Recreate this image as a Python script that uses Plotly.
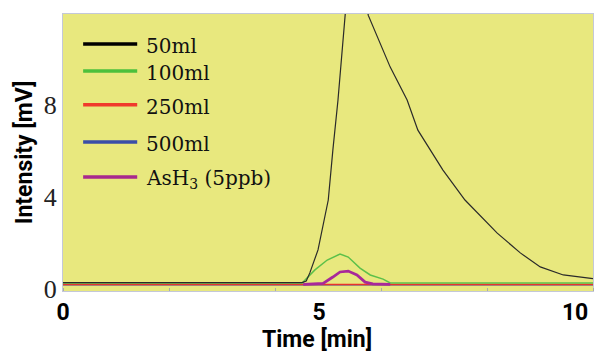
import plotly.graph_objects as go

# Time [min] and Intensity [mV]
t_50 = [0, 4.67, 4.75, 4.82, 4.98, 5.18, 5.27, 5.37, 5.51, 5.72, 5.96, 6.39, 6.72, 6.93, 7.42, 7.85, 8.48, 8.93, 9.32, 9.77, 10.35]
i_50 = [0.28, 0.28, 0.35, 0.70, 1.70, 3.87, 6.04, 8.22, 11.91, 17.0, 11.91, 9.65, 8.22, 6.91, 5.17, 3.87, 2.43, 1.57, 0.96, 0.61, 0.45]

t_100 = [0, 4.67, 4.92, 5.16, 5.41, 5.57, 5.8, 6.0, 6.25, 6.39, 10.35]
i_100 = [0.26, 0.26, 0.83, 1.26, 1.52, 1.39, 0.91, 0.61, 0.43, 0.26, 0.26]

t_250 = [0, 5.0, 10.35]
i_250 = [0.20, 0.20, 0.20]

t_500 = [0, 5.0, 10.35]
i_500 = [0.19, 0.19, 0.19]

t_ash3 = [4.69, 5.08, 5.27, 5.41, 5.57, 5.74, 5.9, 6.05, 6.39]
i_ash3 = [0.20, 0.24, 0.52, 0.74, 0.78, 0.61, 0.30, 0.22, 0.20]

x_ticks = [0, 5, 10]
y_ticks = [0, 4, 8]

series_names = ["50ml", "100ml", "250ml", "500ml", "AsH<sub>3</sub> (5ppb)"]
legend_colors = ["#000000", "#4cc03c", "#f03a2c", "#3a4ea8", "#a8288e"]

fig = go.Figure()

def add(t, v, name, color, width):
    fig.add_trace(go.Scatter(
        x=t, y=v, mode="lines", name=name, showlegend=False,
        line=dict(color=color, width=width),
    ))

# draw order: baselines first, black on top
add(t_500, i_500, series_names[3], "#3a4fa8", 1.5)
add(t_250, i_250, series_names[2], "#e8342c", 1.5)
add(t_100, i_100, series_names[1], "#5cc04a", 1.5)
add(t_ash3, i_ash3, series_names[4], "#a8289a", 2.8)
add(t_50, i_50, series_names[0], "#2a2a2a", 1.2)

# custom legend (paper coordinates), matching the reference's long thick swatches
legend_y = [0.892, 0.794, 0.672, 0.538, 0.412]
shapes = []
annotations = []
for name, col, yy in zip(series_names, legend_colors, legend_y):
    shapes.append(dict(type="line", xref="paper", yref="paper",
                       x0=0.038, x1=0.140, y0=yy, y1=yy,
                       line=dict(color=col, width=3.5)))
    annotations.append(dict(xref="paper", yref="paper", x=0.153, y=yy - 0.008,
                            xanchor="left", yanchor="middle", showarrow=False,
                            text=name,
                            font=dict(family="DejaVu Serif", size=20, color="#111111")))

annotations.append(dict(xref="paper", yref="paper", x=0.48, y=-0.176,
                        xanchor="center", yanchor="middle", showarrow=False,
                        text="Time [min]", borderpad=0,
                        font=dict(family="Roboto", size=23, color="black", weight="bold")))

axis_line = "#c4c8d8"
fig.update_layout(
    width=603, height=353,
    margin=dict(l=63, r=10, t=14, b=62),
    paper_bgcolor="white",
    plot_bgcolor="#e8e87e",
    showlegend=False,
    shapes=shapes,
    annotations=annotations,
    xaxis=dict(
        range=[0, 10.35],
        tickvals=x_ticks, ticktext=[str(v) for v in x_ticks],
        tickfont=dict(family="Roboto", size=23, color="black", weight="bold"),
        showgrid=False, zeroline=False,
        showline=True, mirror=True, linecolor=axis_line, linewidth=1,
        ticks="", ticklabelstandoff=0,
        minor=dict(tick0=0, dtick=2.07, ticks="inside", ticklen=3, tickcolor="#aaaaaa"),
    ),
    yaxis=dict(
        range=[-0.087, 11.96],
        tickvals=y_ticks, ticktext=[str(v) for v in y_ticks],
        tickfont=dict(family="Liberation Serif", size=26, color="#222222"),
        showgrid=False, zeroline=False,
        showline=True, mirror=True, linecolor=axis_line, linewidth=1,
        ticks="", ticklabelstandoff=0,
        title=dict(text="Intensity [mV]", font=dict(family="Roboto", size=23, color="black", weight="bold"), standoff=4),
    ),
)

fig.write_html("out.html")
